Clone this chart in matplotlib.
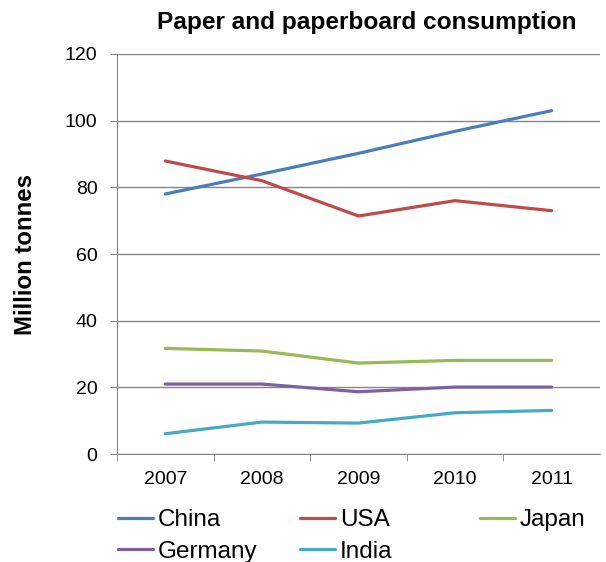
import matplotlib.pyplot as plt

plt.rcParams['font.family'] = ['Liberation Sans', 'DejaVu Sans']

years = ['2007', '2008', '2009', '2010', '2011']
china = [78, 84, 90.2, 96.8, 103]
usa = [87.9, 82, 71.4, 76, 73]
japan = [31.7, 30.9, 27.3, 28.1, 28.1]
germany = [21, 21, 18.7, 20.1, 20.1]
india = [6.1, 9.6, 9.3, 12.4, 13.1]

series = [('China', china, '#4A7EBB'), ('USA', usa, '#BE4B48'),
          ('Japan', japan, '#98B954'), ('Germany', germany, '#7D60A0'),
          ('India', india, '#46AAC5')]

fig = plt.figure(figsize=(6.06, 5.62), dpi=100)
ax = fig.add_axes([0.193, 0.192, 0.797, 0.712])

x = range(len(years))
lines = {}
for name, vals, col in series:
    lines[name], = ax.plot(x, vals, color=col, lw=2.3, label=name, solid_capstyle='round')

ax.set_xlim(-0.5, len(years) - 0.5)
ax.set_ylim(0, 120)
ax.set_yticks(range(0, 121, 20))
ax.set_xticks(list(x))
ax.set_xticklabels(years)
ax.set_xticks([i - 0.5 for i in range(len(years))], minor=True)
ax.tick_params(axis='x', which='major', length=0, pad=12, labelsize=14)
ax.tick_params(axis='x', which='minor', length=5, color='#868686')
ax.tick_params(axis='y', length=5, color='#868686', labelsize=14, pad=9)
ax.grid(axis='y', color='#868686', lw=1)
ax.set_axisbelow(True)
for s in ['top', 'right']:
    ax.spines[s].set_visible(False)
for s in ['left', 'bottom']:
    ax.spines[s].set_color('#868686')

ax.set_title('Paper and paperboard consumption', fontsize=17.6, fontweight='bold',
             pad=18, x=0.517)
ax.set_ylabel('Million tonnes', fontsize=17.3, fontweight='bold', labelpad=20)

# legend in three fixed-width columns, like the Excel layout
cols = [(['China', 'Germany'], 118), (['USA', 'India'], 300), (['Japan'], 480)]
for names, px in cols:
    fig.legend(handles=[lines[n] for n in names], loc='upper left',
               bbox_to_anchor=(px / 606, 0.094), frameon=False, fontsize=17.5,
               handlelength=1.45, handletextpad=0.2, labelspacing=0.4,
               borderpad=0, borderaxespad=0)

fig.savefig('out.png', dpi=100)
